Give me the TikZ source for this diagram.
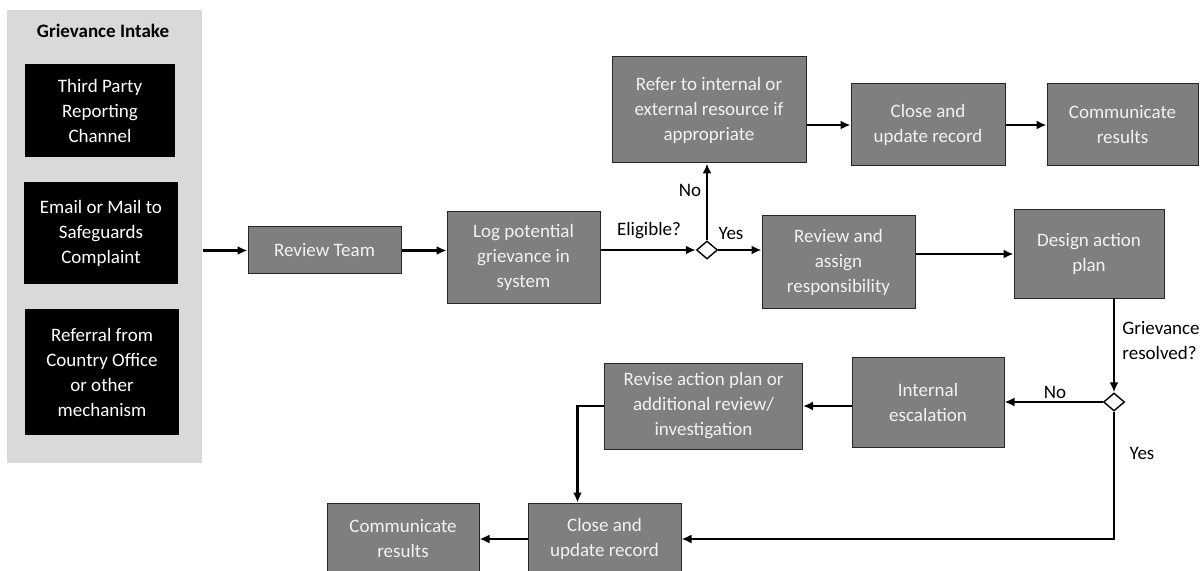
\documentclass[tikz,border=0pt]{standalone}
\usepackage{fontspec}
\setmainfont{Carlito}
\usetikzlibrary{shapes, positioning, arrows.meta}
\definecolor{stagegray}{RGB}{127,127,127}
\definecolor{panelgray}{RGB}{217,217,217}
\definecolor{stagetext}{RGB}{242,242,242}

\begin{document}
\begin{tikzpicture}[x=0.5pt, y=-0.5pt,
    font=\fontsize{9.5}{12.5}\selectfont,
    panel/.style={rectangle, draw=none, fill=panelgray,
        minimum width=97.5pt, minimum height=226.5pt},
    source/.style={rectangle, draw=none, fill=black, text=white,
        text centered, align=center, inner sep=2pt},
    stage/.style={rectangle, draw=black!85, line width=0.5pt, fill=stagegray,
        text=stagetext, text centered, align=center, inner sep=2pt},
    question/.style={diamond, draw=black, line width=0.7pt, fill=white,
        minimum width=10.5pt, minimum height=9pt, inner sep=0pt},
    answer/.style={rectangle, draw=none, fill=none, text=black, inner sep=0pt},
    flow/.style={-{Latex[length=5pt, width=4.5pt]}, line width=1.3pt}
]
\clip (0,0) rectangle (1202,571);

% intake column
\node (Panel) [panel] at (104.5,236.5) {};
\node (Title) [answer, font=\fontsize{9.5}{12.5}\selectfont\bfseries] at (103,31) {Grievance Intake};
\node (Src01) [source, minimum width=75pt, minimum height=46.5pt] at (100,110.5) {Third Party\\Reporting\\Channel};
\node (Src02) [source, minimum width=77pt, minimum height=51pt] at (101,233) {Email or Mail to\\Safeguards\\Complaint};
\node (Src03) [source, minimum width=77pt, minimum height=63pt] at (102,372) {Referral from\\Country Office\\or other\\mechanism};
\coordinate (In00) at (203,250.5);

% main line
\node (S01) [stage, minimum width=76.5pt, minimum height=23.5pt] at (324.5,250.5) {Review Team};
\node (S02) [stage, minimum width=76.5pt, minimum height=45.5pt] at (523.5,257.5) {Log potential\\grievance in\\system};
\node (Q01) [question] at (707,250) {};
\node (S03) [stage, minimum width=97pt, minimum height=53pt] at (709,110) {Refer to internal or\\external resource if\\appropriate};
\node (S04) [stage, minimum width=77pt, minimum height=41pt] at (928,125) {Close and\\update record};
\node (S05) [stage, minimum width=75.5pt, minimum height=41pt] at (1122.5,125) {Communicate\\results};
\node (S06) [stage, minimum width=76.5pt, minimum height=46pt] at (838.5,262) {Review and\\assign\\responsibility};
\node (S07) [stage, minimum width=75pt, minimum height=44pt] at (1089,254) {Design action\\plan};

% resolution loop
\node (Q02) [question] at (1114,402) {};
\node (S08) [stage, minimum width=76pt, minimum height=45pt] at (928,402) {Internal\\escalation};
\node (S09) [stage, minimum width=99pt, minimum height=43pt] at (703.5,406) {Revise action plan or\\additional review/\\investigation};
\node (S10) [stage, minimum width=76.5pt, minimum height=36pt] at (604.5,539) {Close and\\update record};
\node (S11) [stage, minimum width=76pt, minimum height=36pt] at (403,539) {Communicate\\results};

\node (A01) [answer] at (649,231) {Eligible?};
\node (A02) [answer] at (731,233) {Yes};
\node (A03) [answer] at (690,190) {No};
\node (A04) [answer, anchor=west, align=left] at (1122,341) {Grievance\\resolved?};
\node (A05) [answer] at (1055,392) {No};
\node (A06) [answer] at (1142,453) {Yes};

\draw [flow] (In00) -- (S01.west);
\draw [flow] (S01.east) -- (S01.east -| S02.west);
\draw [flow] (Q01.west -| S02.east) -- (Q01.west);
\draw [flow] (Q01.north) -- (Q01.north |- S03.south);
\draw [flow] (Q01.east) -- (Q01.east -| S06.west);
\draw [flow] (S04.west -| S03.east) -- (S04.west);
\draw [flow] (S04.east) -- (S05.west);
\draw [flow] (S07.west -| S06.east) -- (S07.west);
\draw [flow] (S07.south -| Q02) -- (Q02.north);
\draw [flow] (Q02.west) -- (Q02.west -| S08.east);
\draw [flow] (S08.west |- S09.east) -- (S09.east);
\draw [flow] (S09.west) -| ([xshift=-13.5pt]S10.north);
\draw [flow] (Q02.south) |- (S10.east);
\draw [flow] (S10.west) -- (S11.east);

\end{tikzpicture}
\end{document}
